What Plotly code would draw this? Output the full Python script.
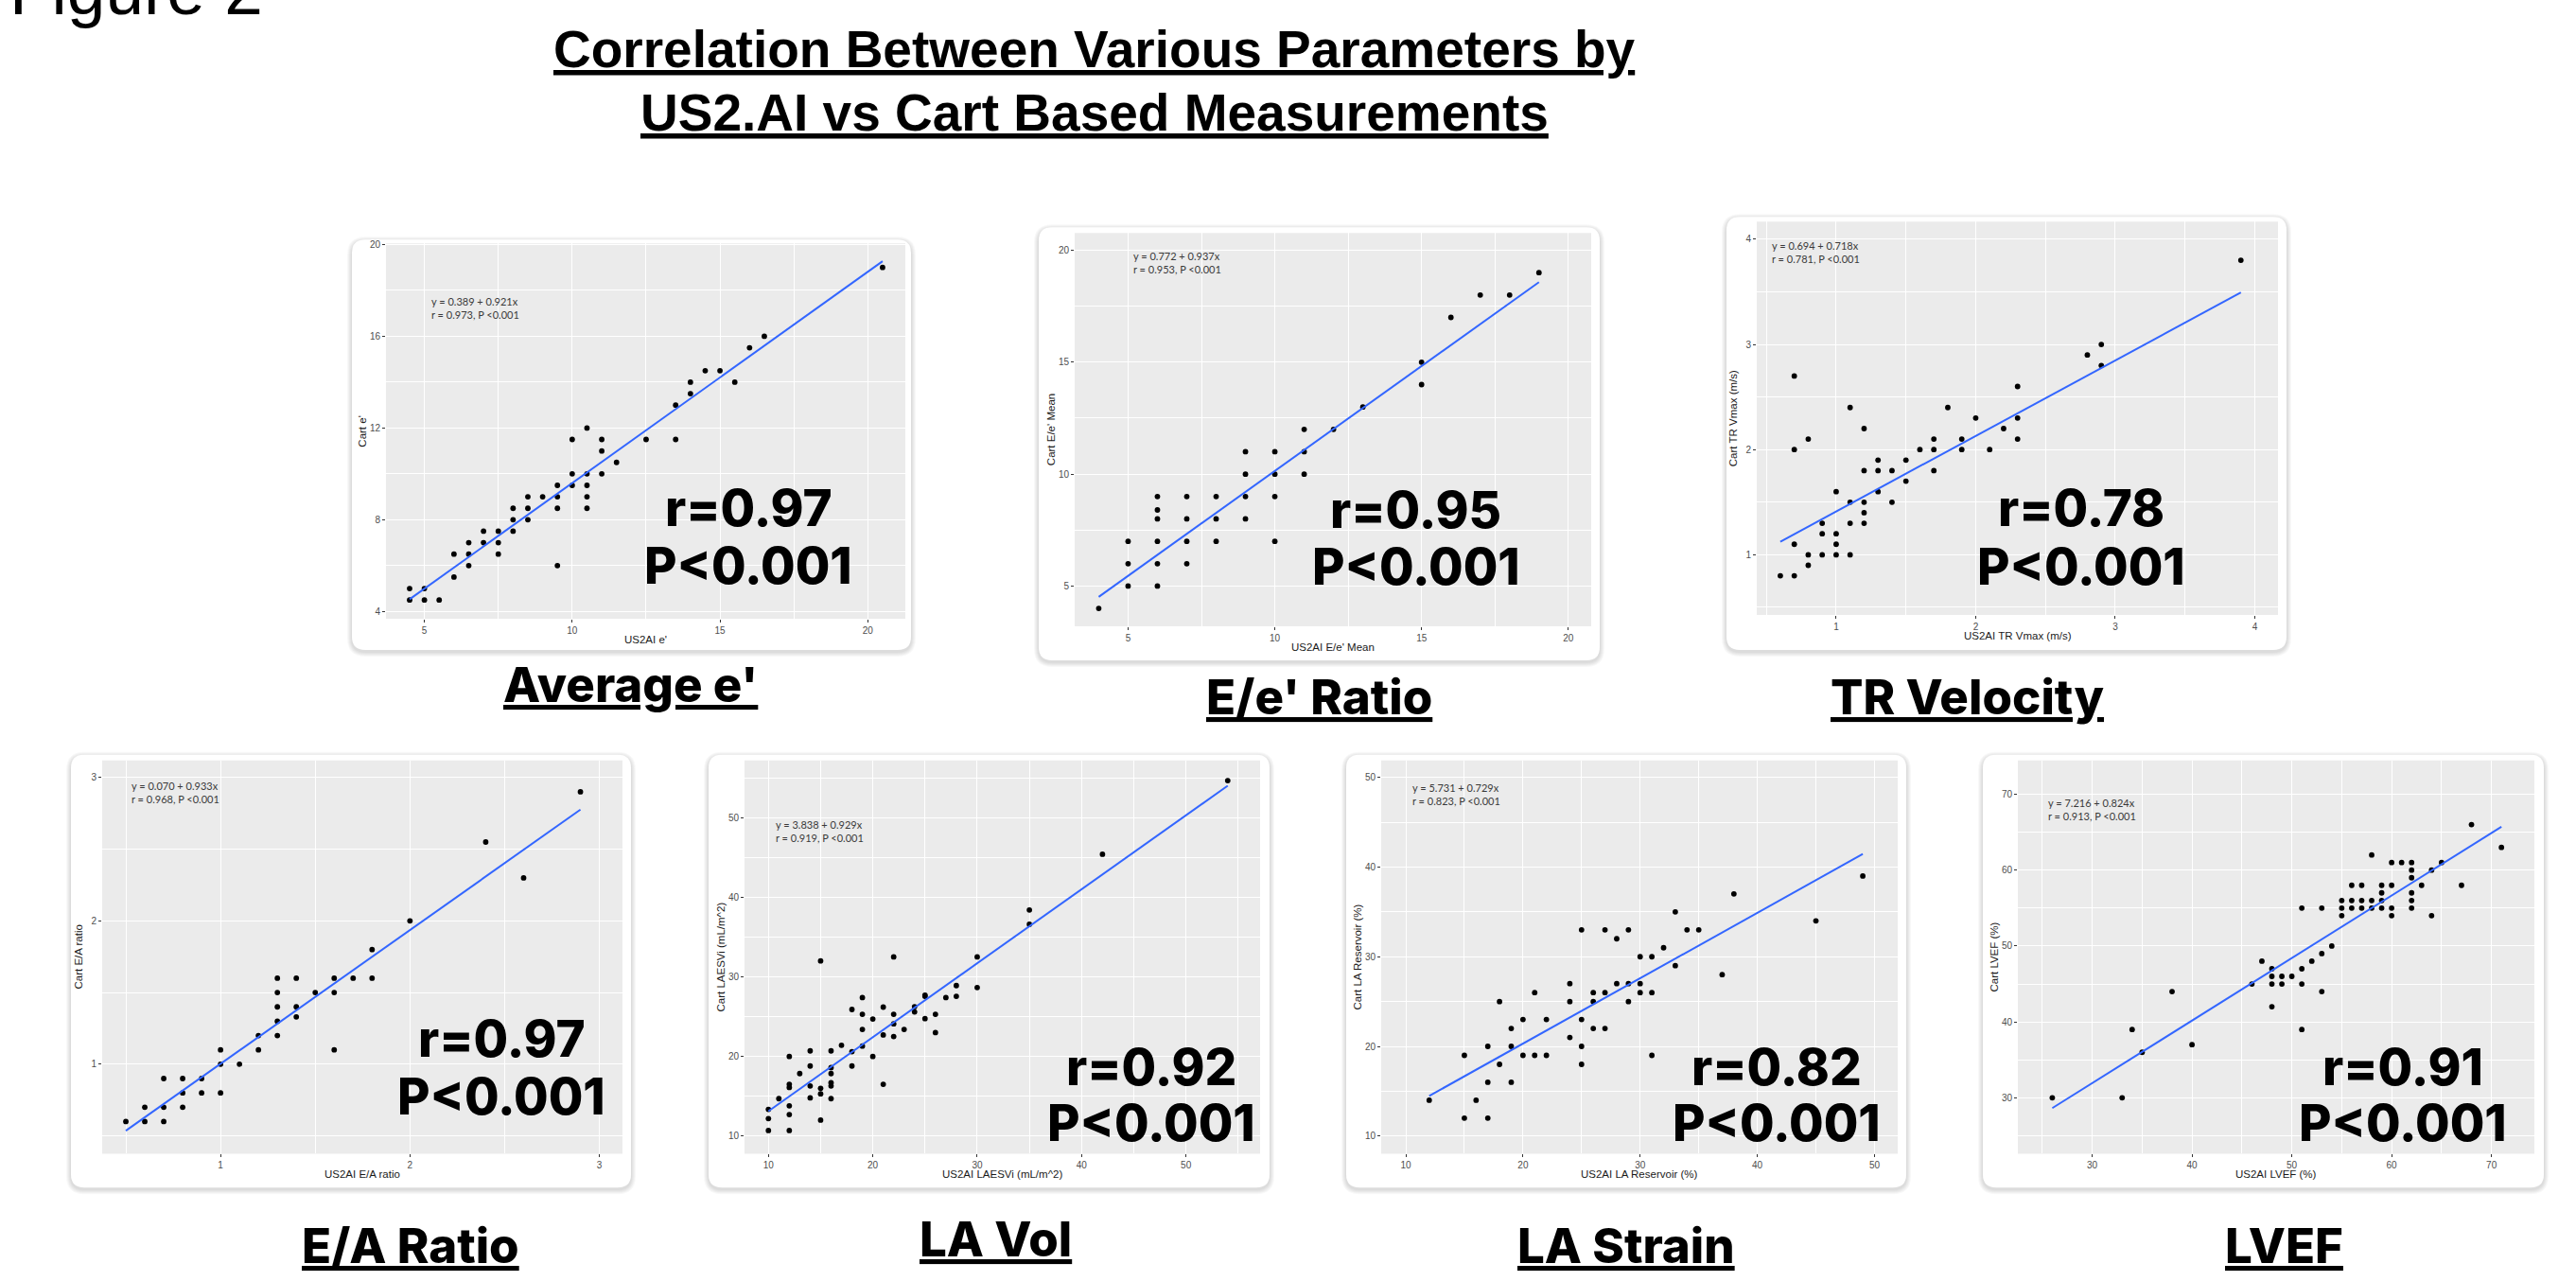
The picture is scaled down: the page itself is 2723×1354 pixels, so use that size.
import plotly.graph_objects as go

W, H = 2723, 1354

# ---------------- DATA ----------------
panel_names = ["Average e'", "E/e' Ratio", "TR Velocity", "E/A Ratio", "LA Vol", "LA Strain", "LVEF"]
x_titles = ["US2AI e'", "US2AI E/e' Mean", "US2AI TR Vmax (m/s)", "US2AI E/A ratio",
            "US2AI LAESVi (mL/m^2)", "US2AI LA Reservoir (%)", "US2AI LVEF (%)"]
y_titles = ["Cart e'", "Cart E/e' Mean", "Cart TR Vmax (m/s)", "Cart E/A ratio",
            "Cart LAESVi (mL/m^2)", "Cart LA Reservoir (%)", "Cart LVEF (%)"]
intercepts = [0.389, 0.772, 0.694, 0.070, 3.838, 5.731, 7.216]
slopes = [0.921, 0.937, 0.718, 0.933, 0.929, 0.729, 0.824]
r_values = [0.973, 0.953, 0.781, 0.968, 0.919, 0.823, 0.913]

ae_x = [4.5, 4.5, 5, 5, 5.5, 6, 6, 6.5, 6.5, 6.5, 7, 7, 7.5, 7.5, 7.5, 8, 8, 8, 8.5, 8.5, 8.5, 9,
        9.5, 9.5, 9.5, 9.5, 10, 10, 10, 10.5, 10.5, 10.5, 10.5, 10.5, 11, 11, 11, 11.5, 12.5,
        13.5, 13.5, 14, 14, 14.5, 15, 15.5, 16, 16.5, 20.5]
ae_y = [5, 4.5, 5, 4.5, 4.5, 5.5, 6.5, 7, 6.5, 6, 7.5, 7, 7.5, 7, 6.5, 8.5, 8, 7.5, 9, 8.5, 8, 9,
        9.5, 9, 8.5, 6, 11.5, 10, 9.5, 12, 10, 9.5, 9, 8.5, 11.5, 11, 10, 10.5, 11.5,
        13, 11.5, 14, 13.5, 14.5, 14.5, 14, 15.5, 16, 19]

ee_x = [4, 5, 5, 5, 6, 6, 6, 6, 6, 6, 7, 7, 7, 7, 8, 8, 8, 9, 9, 9, 9, 10, 10, 10, 10,
        11, 11, 11, 12, 13, 15, 15, 16, 17, 18, 19]
ee_y = [4, 7, 6, 5, 9, 8.4, 8, 7, 6, 5, 9, 8, 7, 6, 9, 8, 7, 11, 10, 9, 8, 11, 10, 9, 7,
        12, 11, 10, 12, 13, 15, 14, 17, 18, 18, 19]

tr_x = [0.6, 0.7, 0.7, 0.7, 0.7, 0.8, 0.8, 0.8, 0.9, 0.9, 0.9, 1.0, 1.0, 1.0, 1.0, 1.1, 1.1, 1.1, 1.1,
        1.2, 1.2, 1.2, 1.2, 1.2, 1.3, 1.3, 1.3, 1.4, 1.4, 1.5, 1.5, 1.6, 1.7, 1.7, 1.7, 1.8, 1.9, 1.9,
        2.0, 2.1, 2.2, 2.3, 2.3, 2.3, 2.8, 2.9, 2.9, 3.9]
tr_y = [0.8, 0.8, 1.1, 2.0, 2.7, 0.9, 1.0, 2.1, 1.0, 1.2, 1.3, 1.0, 1.1, 1.2, 1.6, 1.0, 1.3, 1.5, 2.4,
        1.3, 1.4, 1.5, 1.8, 2.2, 1.6, 1.8, 1.9, 1.5, 1.8, 1.7, 1.9, 2.0, 1.8, 2.0, 2.1, 2.4, 2.0, 2.1,
        2.3, 2.0, 2.2, 2.1, 2.3, 2.6, 2.9, 2.8, 3.0, 3.8]

ea_x = [0.5, 0.6, 0.6, 0.7, 0.7, 0.7, 0.8, 0.8, 0.8, 0.9, 0.9, 1.0, 1.0, 1.0, 1.1, 1.2, 1.2,
        1.3, 1.3, 1.3, 1.3, 1.3, 1.4, 1.4, 1.4, 1.5, 1.6, 1.6, 1.6, 1.7, 1.8, 1.8, 2.0, 2.4, 2.6, 2.9]
ea_y = [0.6, 0.6, 0.7, 0.6, 0.7, 0.9, 0.7, 0.8, 0.9, 0.8, 0.9, 0.8, 1.0, 1.1, 1.0, 1.1, 1.2,
        1.2, 1.3, 1.4, 1.5, 1.6, 1.33, 1.4, 1.6, 1.5, 1.1, 1.5, 1.6, 1.6, 1.6, 1.8, 2.0, 2.55, 2.3, 2.9]

lv_x = [10, 10, 10, 11, 12, 12, 12, 12, 12, 12, 13, 14, 14, 14, 14, 15, 15, 15, 15,
        16, 16, 16, 16, 16, 16, 17, 18, 18, 18, 19, 19, 19, 19, 20, 20, 21, 21, 21,
        22, 22, 22, 22, 23, 24, 24, 25, 25, 25, 26, 26, 27, 28, 28, 30, 30, 35, 35, 42, 54]
lv_y = [10.7, 12.2, 13.35, 14.7, 10.7, 12.7, 13.8, 16.1, 16.5, 20, 17.85, 14.8, 16.3, 18.8, 20.7,
        12.0, 15.3, 16.0, 32.0, 14.7, 16.3, 16.7, 17.85, 18.6, 20.7, 21.4, 18.8, 20.6, 25.9,
        21.3, 23.4, 25.3, 27.4, 20, 24.7, 16.5, 22.7, 26.2, 22.5, 24.1, 25.3, 32.5, 23.4,
        25.6, 26.25, 24.75, 27.55, 27.7, 23.0, 25.3, 27.4, 27.55, 28.9, 28.66, 32.5,
        36.6, 38.4, 45.4, 54.65]

ls_x = [12, 15, 15, 16, 17, 17, 17, 18, 18, 19, 19, 19, 20, 20, 21, 21, 22, 22, 24, 24, 24,
        25, 25, 25, 25, 26, 26, 26, 27, 27, 27, 28, 28, 29, 29, 29, 30, 30, 30, 31, 31, 31,
        32, 33, 33, 34, 35, 37, 38, 45, 49]
ls_y = [14, 12, 19, 14, 12, 16, 20, 18, 25, 16, 20, 22, 19, 23, 19, 26, 19, 23, 21, 25, 27,
        18, 20, 23, 33, 22, 25, 26, 22, 26, 33, 27, 32, 25, 27, 33, 26, 27, 30, 19, 26, 30,
        31, 29, 35, 33, 33, 28, 37, 34, 39]

ef_x = [26, 33, 34, 35, 38, 40, 46, 47, 48, 48, 48, 48, 49, 49, 50, 51, 51, 51, 51, 52, 53, 53, 53,
        54, 55, 55, 55, 56, 56, 56, 57, 57, 57, 58, 58, 58, 59, 59, 59, 59, 60, 60, 60, 60, 61,
        62, 62, 62, 62, 62, 62, 63, 64, 64, 65, 67, 68, 71]
ef_y = [30, 30, 39, 36, 44, 37, 45, 48, 42, 45, 46, 47, 45, 46, 46, 39, 45, 47, 55, 48, 44, 49, 55,
        50, 54, 55, 56, 55, 56, 58, 55, 56, 58, 55, 56, 62, 55, 56, 57, 58, 54, 55, 58, 61, 61,
        55, 56, 57, 59, 60, 61, 58, 54, 60, 61, 58, 66, 63]

series_x = [ae_x, ee_x, tr_x, ea_x, lv_x, ls_x, ef_x]
series_y = [ae_y, ee_y, tr_y, ea_y, lv_y, ls_y, ef_y]

# ---------------- LAYOUT (pixel geometry) ----------------
cards = [(372, 250, 963, 685), (1098, 237, 1691, 696), (1825, 226, 2417, 685),
         (75, 796, 667, 1255), (749, 796, 1342, 1255), (1423, 796, 2015, 1255), (2096, 796, 2689, 1255)]
plots = [(408, 254, 957, 652), (1136, 243, 1682, 660), (1857, 231, 2408, 648),
         (108, 802, 658, 1219), (787, 802, 1332, 1219), (1460, 802, 2006, 1219), (2133, 802, 2679, 1219)]
xranges = [[3.70, 21.27], [3.18, 20.78], [0.431, 4.166], [0.375, 3.122], [7.71, 57.1], [7.9, 51.98], [22.55, 74.3]]
yranges = [[3.68, 20.05], [3.2, 20.77], [0.427, 4.167], [0.376, 3.12], [7.79, 57.2], [8.04, 51.9], [22.64, 74.47]]
xtick = [(5, 5), (5, 5), (1, 1), (1, 1), (10, 10), (10, 10), (30, 10)]
ytick = [(4, 4), (5, 5), (1, 1), (1, 1), (10, 10), (10, 10), (30, 10)]
eq_pos = [(5.16, 17.25), (5.1, 19.44), (0.526, 3.876), (0.52, 2.894), (10.53, 48.35), (10.4, 48.15), (25.4, 68.0)]
big_pos = [(791, 535, 596), (1497, 537, 597), (2200, 535, 597), (530, 1097, 1158),
           (1217, 1127, 1187), (1878, 1127, 1187), (2540, 1127, 1187)]
label_pos = [(666, 722), (1394, 735), (2079, 735), (434, 1316), (1052, 1309), (1719, 1316), (2414, 1316)]


def X(v):
    return v / W


def Y(v):
    return 1 - v / H


def rounded(l, t, r, b, rad):
    return (f"M {X(l+rad)},{Y(t)} L {X(r-rad)},{Y(t)} Q {X(r)},{Y(t)} {X(r)},{Y(t+rad)} "
            f"L {X(r)},{Y(b-rad)} Q {X(r)},{Y(b)} {X(r-rad)},{Y(b)} "
            f"L {X(l+rad)},{Y(b)} Q {X(l)},{Y(b)} {X(l)},{Y(b-rad)} "
            f"L {X(l)},{Y(t+rad)} Q {X(l)},{Y(t)} {X(l+rad)},{Y(t)} Z")


fig = go.Figure()
shapes = []
annotations = []
layout = {}

TICKFONT = dict(family="Liberation Sans, Arial", size=10, color="#4D4D4D")
AXFONT = dict(family="Liberation Sans, Arial", size=11.5, color="#1a1a1a")
BIGFONT = dict(family="Inter", size=53, color="black", weight=800)
LABFONT = dict(family="Inter", size=51, color="black", weight=800, lineposition="under")

for k in range(7):
    i = k + 1
    xa = "x" if i == 1 else f"x{i}"
    ya = "y" if i == 1 else f"y{i}"
    xs, ys = series_x[k], series_y[k]
    a, b = intercepts[k], slopes[k]

    fig.add_trace(go.Scatter(x=xs, y=ys, mode="markers", xaxis=xa, yaxis=ya,
                             marker=dict(color="black", size=5.8), showlegend=False, hoverinfo="skip"))
    x0, x1 = min(xs), max(xs)
    fig.add_trace(go.Scatter(x=[x0, x1], y=[a + b * x0, a + b * x1], mode="lines", xaxis=xa, yaxis=ya,
                             line=dict(color="#3366FF", width=2), showlegend=False, hoverinfo="skip"))

    pl, pt, pr, pb = plots[k]
    axis_common = dict(showgrid=True, gridcolor="white", gridwidth=1.1, zeroline=False, showline=False,
                       ticks="outside", ticklen=3, tickwidth=1, tickcolor="#333333", tickfont=TICKFONT,
                       fixedrange=True)
    layout["xaxis" if i == 1 else f"xaxis{i}"] = dict(
        domain=[X(pl), X(pr)], range=xranges[k], anchor=ya, tick0=xtick[k][0], dtick=xtick[k][1],
        minor=dict(tick0=xtick[k][0], dtick=xtick[k][1] / 2, showgrid=True, gridcolor="white", gridwidth=0.6),
        **axis_common)
    layout["yaxis" if i == 1 else f"yaxis{i}"] = dict(
        domain=[Y(pb), Y(pt)], range=yranges[k], anchor=xa, tick0=ytick[k][0], dtick=ytick[k][1],
        minor=dict(tick0=ytick[k][0], dtick=ytick[k][1] / 2, showgrid=True, gridcolor="white", gridwidth=0.6),
        **axis_common)

    # card shadow + card
    cl, ct, cr, cb = cards[k]
    for s in range(1, 6):
        shapes.append(dict(type="path", xref="paper", yref="paper", layer="below",
                           path=rounded(cl - s, ct - s + 2, cr + s, cb + s + 2, 14 + s),
                           fillcolor="rgba(0,0,0,0.028)", line=dict(width=0)))
    shapes.append(dict(type="path", xref="paper", yref="paper", layer="below",
                       path=rounded(cl, ct, cr, cb, 14), fillcolor="white", line=dict(width=0)))
    shapes.append(dict(type="rect", xref=f"{xa} domain", yref=f"{ya} domain", layer="below",
                       x0=0, x1=1, y0=0, y1=1, fillcolor="#EBEBEB", line=dict(width=0)))

    # regression text
    annotations.append(dict(xref=xa, yref=ya, x=eq_pos[k][0], y=eq_pos[k][1], xanchor="left", yanchor="middle",
                            align="left", showarrow=False,
                            text=f"y = {a:.3f} + {b:.3f}x<br>r = {r_values[k]:.3f}, P &lt;0.001",
                            font=dict(family="Lato", size=11, color="#3a3a3a")))
    # axis titles
    annotations.append(dict(xref="paper", yref="paper", x=X((pl + pr) / 2), y=Y(pb + 22), showarrow=False,
                            xanchor="center", yanchor="middle", text=x_titles[k], font=AXFONT))
    annotations.append(dict(xref="paper", yref="paper", x=X(pl - 25), y=Y((pt + pb) / 2), showarrow=False,
                            xanchor="center", yanchor="middle", text=y_titles[k], textangle=-90, font=AXFONT))
    # big r / P text
    bx, by1, by2 = big_pos[k]
    annotations.append(dict(xref="paper", yref="paper", x=X(bx), y=Y(by1), showarrow=False,
                            xanchor="center", yanchor="middle", text=f"r={r_values[k]:.2f}", font=BIGFONT))
    annotations.append(dict(xref="paper", yref="paper", x=X(bx), y=Y(by2), showarrow=False,
                            xanchor="center", yanchor="middle", text="P&lt;0.001", font=BIGFONT))
    # panel label
    lx, ly = label_pos[k]
    annotations.append(dict(xref="paper", yref="paper", x=X(lx), y=Y(ly), showarrow=False,
                            xanchor="center", yanchor="middle", text=panel_names[k], font=LABFONT))

TITLEFONT = dict(family="Liberation Sans, Arial", size=55, color="black", weight=700, lineposition="under")
annotations.append(dict(xref="paper", yref="paper", x=X(1157), y=Y(48), showarrow=False, xanchor="center",
                        yanchor="middle", text="Correlation Between Various Parameters by", font=TITLEFONT))
annotations.append(dict(xref="paper", yref="paper", x=X(1157), y=Y(115), showarrow=False, xanchor="center",
                        yanchor="middle", text="US2.AI vs Cart Based Measurements", font=TITLEFONT))
annotations.append(dict(xref="paper", yref="paper", x=X(8), y=Y(-15), showarrow=False, xanchor="left",
                        yanchor="middle", text="Figure 2",
                        font=dict(family="Liberation Sans, Arial", size=73, color="black")))

fig.update_layout(width=W, height=H, margin=dict(l=0, r=0, t=0, b=0, pad=0),
                  paper_bgcolor="white", plot_bgcolor="#EBEBEB", showlegend=False,
                  hovermode=False, shapes=shapes, annotations=annotations, **layout)

fig.write_html("out.html", config={"displayModeBar": False, "responsive": False},
               post_script="document.body.style.margin='0';document.body.style.overflow='hidden';")
